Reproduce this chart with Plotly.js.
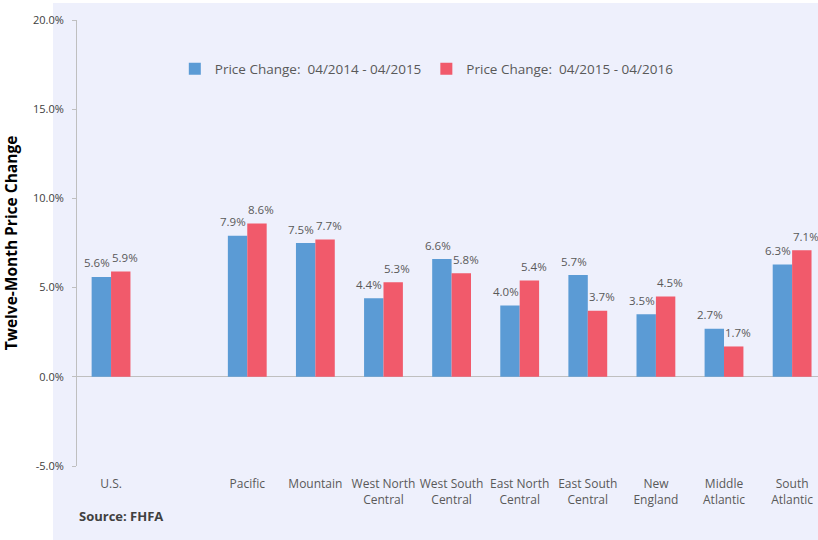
<!DOCTYPE html>
<html>
<head>
<meta charset="utf-8">
<script src="https://cdn.plot.ly/plotly-3.0.1.min.js"></script>
<style>html,body{margin:0;padding:0;background:#fff;}#chart{width:818px;height:540px;}</style>
</head>
<body>
<div id="chart"></div>
<script>
const categories = ["U.S.", " ", "Pacific", "Mountain", "West North<br>Central", "West South<br>Central", "East North<br>Central", "East South<br>Central", "New<br>England", "Middle<br>Atlantic", "South<br>Atlantic"];
const change2014_2015 = [5.6, null, 7.9, 7.5, 4.4, 6.6, 4.0, 5.7, 3.5, 2.7, 6.3];
const change2015_2016 = [5.9, null, 8.6, 7.7, 5.3, 5.8, 5.4, 3.7, 4.5, 1.7, 7.1];
const seriesNames = ["Price Change:\u00a0\u00a004/2014 - 04/2015", "Price Change:\u00a0\u00a004/2015 - 04/2016"];
const yTicks = [-5, 0, 5, 10, 15, 20];

const fontFam = "Open Sans, Noto Sans, sans-serif";
const labelFmt = v => v.toFixed(1) + "%";

const traces = [
  {type: "bar", x: categories, y: change2014_2015, name: seriesNames[0],
   marker: {color: "#5b9bd5"}},
  {type: "bar", x: categories, y: change2015_2016, name: seriesNames[1],
   marker: {color: "#f15a6b"}}
];

// data labels, placed through the axes' own scales
const labelAnns = [];
[[change2014_2015, -14], [change2015_2016, 14]].forEach(([vals, dx]) => {
  vals.forEach((v, i) => {
    if (v === null) return;
    labelAnns.push({x: categories[i], y: v, xref: "x", yref: "y", text: labelFmt(v),
      showarrow: false, xanchor: "center", yanchor: "middle", xshift: dx, yshift: 14,
      font: {family: fontFam, size: 11.5, color: "#595959"}});
  });
});

const layout = {
  width: 818, height: 540,
  margin: {l: 77, r: 0, t: 20, b: 74},
  paper_bgcolor: "#ffffff",
  plot_bgcolor: "rgba(0,0,0,0)",
  font: {family: fontFam, color: "#595959"},
  barmode: "group", bargap: 0.43, bargroupgap: 0,
  showlegend: true,
  legend: {orientation: "h", x: 0.132, xanchor: "left", y: 0.89, yanchor: "middle",
           font: {family: fontFam, size: 13.5, color: "#595959"}, bgcolor: "rgba(0,0,0,0)",
           traceorder: "normal"},
  xaxis: {type: "category", range: [-0.5, 10.38], showline: false, ticks: "",
          showgrid: false, zeroline: false, ticklabelstandoff: 9,
          tickfont: {family: fontFam, size: 12, color: "#595959"}},
  xaxis2: {type: "linear", overlaying: "x", anchor: "free", position: 0.2,
           range: [-0.5, 10.38], tickvals: [-0.5,0.5,1.5,2.5,3.5,4.5,5.5,6.5,7.5,8.5,9.5,10.5],
           showticklabels: false, ticks: "outside", ticklen: 5, tickcolor: "#bfbfbf",
           showline: false, showgrid: false, zeroline: false},
  yaxis: {range: [-5, 20], tickvals: yTicks, ticktext: yTicks.map(v => v.toFixed(1) + "%"),
          showgrid: false, zeroline: true, zerolinecolor: "#bfbfbf", zerolinewidth: 1,
          showline: true, linecolor: "#bfbfbf", linewidth: 1,
          ticks: "outside", ticklen: 4, tickcolor: "#bfbfbf", ticklabelstandoff: 6,
          tickfont: {family: fontFam, size: 11, color: "#404040"},
          title: {text: "Twelve-Month Price Change", standoff: 11,
                  font: {family: fontFam, size: 15.5, color: "#000000", weight: "bold"}}},
  shapes: [{type: "rect", xref: "paper", yref: "paper", x0: -0.0324, x1: 1.01, y0: -0.17, y1: 1.038,
            fillcolor: "#eef0fc", line: {width: 0}, layer: "below"}],
  annotations: labelAnns.concat([{text: "<b>Source: FHFA</b>", xref: "paper", yref: "paper", x: 0.0, y: -0.112,
                 xanchor: "left", yanchor: "middle", showarrow: false,
                 font: {family: fontFam, size: 13, color: "#404040"}}])
};

Plotly.newPlot("chart", traces, layout, {displayModeBar: false, staticPlot: true});
</script>
</body>
</html>
